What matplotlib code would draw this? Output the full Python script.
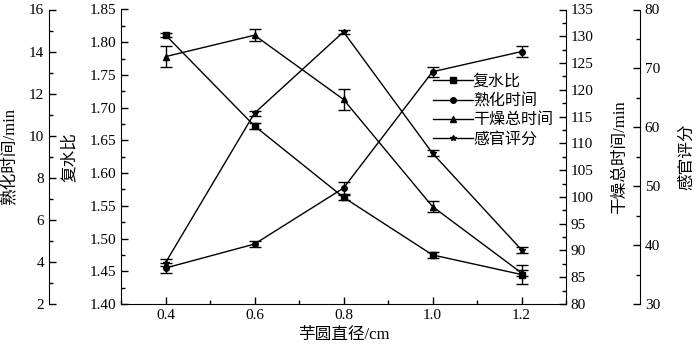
import matplotlib
matplotlib.use("Agg")
import matplotlib.pyplot as plt
from matplotlib.ticker import MultipleLocator, FormatStrFormatter

plt.rcParams['font.family'] = ['Liberation Serif', 'Noto Sans CJK SC']
plt.rcParams['font.size'] = 11
plt.rcParams['axes.unicode_minus'] = False

# Data
diameter = [0.4, 0.6, 0.8, 1.0, 1.2]
rehydration = [1.811, 1.672, 1.563, 1.475, 1.445]          # 复水比
rehydration_err = [0.003, 0.004, 0.004, 0.004, 0.015]
cook_time = [3.71, 4.85, 7.51, 13.04, 14.0]                # 熟化时间/min
cook_time_err = [0.25, 0.15, 0.3, 0.25, 0.28]
dry_time = [126.2, 130.2, 118.2, 98.2, 85.8]               # 干燥总时间/min
dry_time_err = [2.0, 1.1, 2.0, 1.1, 0.5]
sensory = [37.0, 62.4, 76.2, 55.6, 39.2]                   # 感官评分
sensory_err = [0.6, 0.4, 0.3, 0.5, 0.5]

fig = plt.figure(figsize=(6.96, 3.52), dpi=100)
L, R, B, T = 121/696, 566/696, 1-304/352, 1-9.5/352
ax = fig.add_axes([L, B, R-L, T-B])
W = 566-121
LBL = 12

ax_cook = ax.twinx()
ax_dry = ax.twinx()
ax_sens = ax.twinx()

eb = dict(color='black', lw=1.0, capsize=4, elinewidth=1.0, capthick=1.0, markersize=4)

h1 = ax.errorbar(diameter, rehydration, yerr=rehydration_err, marker='s', label='复水比', **eb)
h2 = ax_cook.errorbar(diameter, cook_time, yerr=cook_time_err, marker='o', label='熟化时间', **eb)
h3 = ax_dry.errorbar(diameter, dry_time, yerr=dry_time_err, marker='^', label='干燥总时间', **eb)
h4 = ax_sens.errorbar(diameter, sensory, yerr=sensory_err, marker='*', label='感官评分', **eb)

# main axis
ax.set_xlim(0.3, 1.3)
ax.set_ylim(1.40, 1.85)
ax.xaxis.set_major_locator(MultipleLocator(0.2))
ax.xaxis.set_minor_locator(MultipleLocator(0.1))
ax.xaxis.set_major_formatter(FormatStrFormatter('%.1f'))
ax.yaxis.set_major_locator(MultipleLocator(0.05))
ax.yaxis.set_minor_locator(MultipleLocator(0.025))
ax.yaxis.set_major_formatter(FormatStrFormatter('%.2f'))
for s in ['top', 'right']:
    ax.spines[s].set_visible(False)
ax.tick_params(axis='both', which='major', direction='in', length=5, width=1)
ax.tick_params(axis='both', which='minor', direction='in', length=3, width=1)
ax.set_xlabel('芋圆直径/cm', fontsize=LBL)
ax.set_ylabel('复水比', fontsize=LBL)
ax.yaxis.set_label_coords((78-121)/W, 0.5)

# outer left axis
ax_cook.set_ylim(2, 16)
ax_cook.yaxis.set_ticks_position('left')
ax_cook.yaxis.set_label_position('left')
for s in ['top', 'right', 'bottom']:
    ax_cook.spines[s].set_visible(False)
ax_cook.spines['left'].set_visible(True)
ax_cook.spines['left'].set_position(('axes', (49-121)/W))
ax_cook.yaxis.set_major_locator(MultipleLocator(2))
ax_cook.yaxis.set_minor_locator(MultipleLocator(1))
ax_cook.tick_params(axis='y', which='major', direction='in', length=5, width=1)
ax_cook.tick_params(axis='y', which='minor', direction='in', length=3, width=1)
ax_cook.set_ylabel('熟化时间/min', fontsize=LBL)
ax_cook.yaxis.set_label_coords((18-121)/W, 0.5)

# inner right axis
ax_dry.set_ylim(80, 135)
for s in ['top', 'left', 'bottom']:
    ax_dry.spines[s].set_visible(False)
ax_dry.yaxis.set_major_locator(MultipleLocator(5))
ax_dry.yaxis.set_minor_locator(MultipleLocator(2.5))
ax_dry.tick_params(axis='y', which='major', direction='in', length=5, width=1)
ax_dry.tick_params(axis='y', which='minor', direction='in', length=3, width=1)
ax_dry.set_ylabel('干燥总时间/min', fontsize=LBL)
ax_dry.yaxis.set_label_coords((612-121)/W, 0.5)

# outer right axis
ax_sens.set_ylim(30, 80)
for s in ['top', 'left', 'bottom']:
    ax_sens.spines[s].set_visible(False)
ax_sens.spines['right'].set_position(('axes', (640-121)/W))
ax_sens.yaxis.set_major_locator(MultipleLocator(10))
ax_sens.yaxis.set_minor_locator(MultipleLocator(5))
ax_sens.tick_params(axis='y', which='major', direction='in', length=5, width=1)
ax_sens.tick_params(axis='y', which='minor', direction='in', length=3, width=1)
ax_sens.set_ylabel('感官评分', fontsize=LBL)
ax_sens.yaxis.set_label_coords((679-121)/W, 0.5)

handles = [h1[0], h2[0], h3[0], h4[0]]
labels = ['复水比', '熟化时间', '干燥总时间', '感官评分']
leg = ax_sens.legend(handles, labels, loc='upper left',
                     bbox_to_anchor=((433-121)/W, 1-(74-9.5)/294.5),
                     frameon=False, handlelength=2.5, handletextpad=0.0,
                     labelspacing=0.2, borderpad=0.0, borderaxespad=0.0,
                     fontsize=11.5)

fig.savefig('out.png', dpi=100)
